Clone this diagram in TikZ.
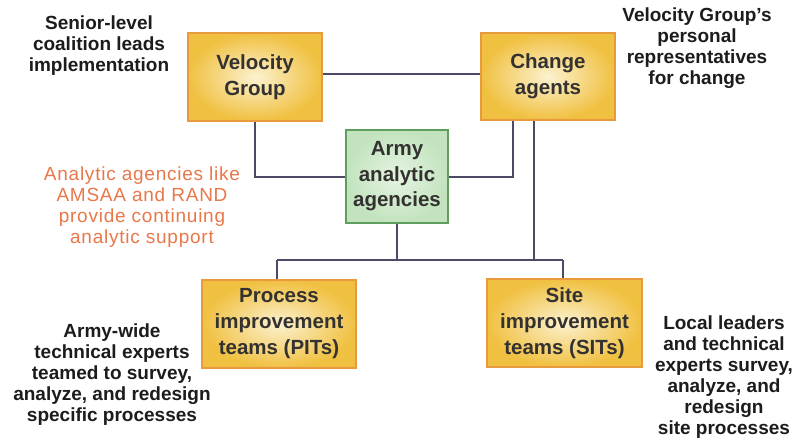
\documentclass[tikz,border=0pt]{standalone}
\usepackage{fontspec}
\setmainfont{Liberation Sans}
\newfontfamily\spacedfont[LetterSpace=4]{Liberation Sans}
\usepackage{tikz}
\usetikzlibrary{calc}
\definecolor{boxgold}{HTML}{F0C040}
\definecolor{boxlight}{HTML}{FCF2D0}
\definecolor{boxedge}{HTML}{E89A3E}
\definecolor{agreen}{HTML}{C2E3BE}
\definecolor{agreenlight}{HTML}{E6F4E2}
\definecolor{agreenedge}{HTML}{5E9E5E}
\definecolor{linkcol}{HTML}{4B4B68}
\definecolor{boxtext}{HTML}{343230}
\definecolor{notecol}{HTML}{1C1C1C}
\definecolor{orangetext}{HTML}{E8784A}
\tikzset{
  goldbox/.style={draw=boxedge, line width=2pt, inner color=boxlight, outer color=boxgold,
    align=center, text=boxtext, font=\fontsize{20.5}{26}\selectfont\bfseries},
  greenbox/.style={draw=agreenedge, line width=2pt, inner color=agreenlight, outer color=agreen,
    align=center, text=boxtext, font=\fontsize{20.5}{25.5}\selectfont\bfseries},
  note/.style={align=center, text=notecol, font=\fontsize{19}{21}\selectfont\bfseries},
  orangenote/.style={align=center, text=orangetext, font=\fontsize{19}{21}\spacedfont},
  link/.style={draw=linkcol, line width=2pt}
}

\begin{document}
\begin{tikzpicture}[x=1pt, y=-1pt]
  \useasboundingbox[fill=white] (0,0) rectangle (793,440);

  \node[goldbox, minimum width=134, minimum height=88] (VG) at (255, 77) {Velocity\\Group};
  \node[goldbox, minimum width=134, minimum height=87] (CA) at (548, 76.5) {Change\\agents};
  \node[greenbox, minimum width=102, minimum height=93] (army) at (397, 176.5) {Army\\analytic\\agencies};
  \node[goldbox, minimum width=154, minimum height=88] (PIT) at (279, 324) {Process\\improvement\\teams (PITs)};
  \node[goldbox, minimum width=155, minimum height=88] (SIT) at (564.5, 323) {Site\\improvement\\teams (SITs)};

  \node[note] (senior) at (99, 46) {Senior-level\\coalition leads\\implementation};
  \node[note] (reps) at (697, 48) {Velocity Group’s\\personal\\representatives\\for change};
  \node[orangenote] (amsaa) at (142, 207.5) {Analytic agencies like\\AMSAA and RAND\\provide continuing\\analytic support};
  \node[note] (armywide) at (112, 375) {Army-wide\\technical experts\\teamed to survey,\\analyze, and redesign\\specific processes};
  \node[note] (local) at (724, 377) {Local leaders\\and technical\\experts survey,\\analyze, and\\redesign\\site processes};

  \coordinate (busL) at (277, 260);
  \coordinate (busR) at (563, 260);

  \draw[link] ([yshift=3]VG.east) -- ([yshift=3]VG.east -| CA.west);
  \draw[link] (VG) |- (army);
  \draw[link] (army) -| ([xshift=-35]CA.south);
  \draw[link] (busL) -- (busR);
  \draw[link] (army) -- (army |- busL);
  \draw[link] ([xshift=-14]CA.south) -- ([xshift=-14]CA.south |- busL);
  \draw[link] (PIT.north -| busL) -- (busL);
  \draw[link] (SIT.north -| busR) -- (busR);
\end{tikzpicture}
\end{document}
